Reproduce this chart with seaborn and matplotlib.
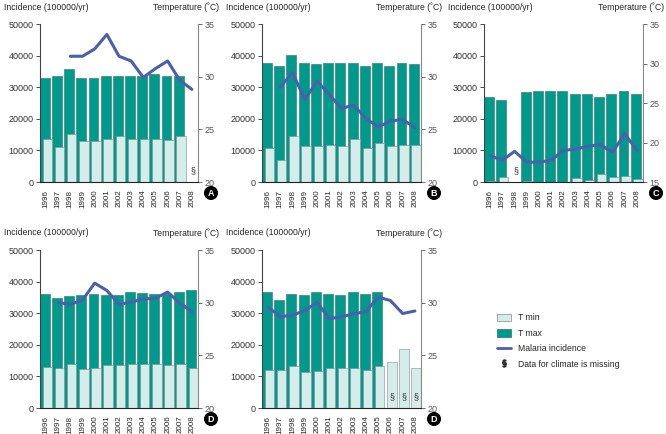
import numpy as np
import matplotlib
matplotlib.use("Agg")
import matplotlib.pyplot as plt
import matplotlib.transforms as mtransforms
from matplotlib.patches import Patch
from matplotlib.lines import Line2D
import seaborn as sns

years = [str(y) for y in range(1996, 2009)]
nan = np.nan

# panel A
a_tmax = [29.9, 30.1, 30.7, 29.9, 29.9, 30.1, 30.1, 30.1, 30.1, 30.3, 30.1, 30.1, nan]
a_tmin = [24.1, 23.3, 24.6, 23.9, 23.9, 24.1, 24.4, 24.1, 24.1, 24.1, 24.0, 24.4, nan]
a_inc = [nan, nan, 39800, 39800, 42100, 46700, 39800, 38300, 33100, 35900, 38300, 32200, 29300]

# panel B
b_tmax = [31.3, 31.0, 32.1, 31.3, 31.2, 31.3, 31.3, 31.3, 31.0, 31.3, 31.0, 31.3, 31.2]
b_tmin = [23.2, 22.1, 24.4, 23.4, 23.4, 23.5, 23.4, 24.1, 23.2, 23.7, 23.4, 23.5, 23.5]
b_inc = [nan, 30100, 34600, 26100, 31900, 27700, 23300, 24300, 20100, 17400, 19300, 19800, 17200]

# panel C
c_tmax = [25.7, 25.4, nan, 26.4, 26.5, 26.5, 26.5, 26.2, 26.2, 25.7, 26.2, 26.5, 26.2]
c_tmin = [15.1, 15.6, nan, 15.1, 14.5, 15.05, 15.0, 15.5, 15.2, 16.0, 15.6, 15.7, 15.4]
c_inc = [8250, 6900, 9700, 6300, 6300, 6900, 10000, 10400, 11300, 11900, 9300, 15300, 10000]

# panel D (first)
d_tmax = [30.8, 30.4, 30.6, 30.7, 30.8, 30.7, 30.7, 31.0, 30.9, 30.8, 30.8, 31.0, 31.2]
d_tmin = [23.9, 23.8, 24.2, 23.7, 23.8, 24.1, 24.1, 24.2, 24.2, 24.2, 24.1, 24.2, 23.8]
d_inc = [nan, 33400, 32800, 34200, 39500, 37200, 32800, 33500, 34500, 34700, 36700, 33200, 30500]

# panel D (second)
e_tmax = [31.0, 30.3, 30.8, 30.7, 31.0, 30.8, 30.7, 31.0, 30.8, 31.0, nan, nan, nan]
e_tmin = [23.6, 23.6, 24.0, 23.4, 23.5, 23.8, 23.8, 23.8, 23.6, 24.0, 24.4, 25.6, 23.8]
e_inc = [31900, 28900, 29400, 30800, 33500, 28200, 28900, 29800, 30500, 35100, 34000, 29900, 30700]

TEAL = "#009a8c"
LIGHT = "#d4ecea"
LINE = "#4a5fae"
W, H = 666, 434

sns.set_style("white")
plt.rcParams["font.family"] = ["Liberation Sans", "DejaVu Sans"]
plt.rcParams["font.size"] = 6


def draw_panel(fig, px, tmax, tmin, inc, tlim, letter, missing):
    left, top, right, bottom = px
    ax = fig.add_axes([left / W, 1 - bottom / H, (right - left) / W, (bottom - top) / H])
    ax2 = ax.twinx()
    x = list(range(len(years)))

    # temperature bars on the right axis, clipped at the bottom of the range
    n0 = len(ax2.patches)
    sns.barplot(x=x, y=tmax, order=x, color=TEAL, saturation=1, errorbar=None,
                width=0.81, edgecolor="#2f6f68", linewidth=0.4, ax=ax2)
    for p in ax2.patches[n0:]:
        p.set_x(p.get_x() - 0.095)
    n1 = len(ax2.patches)
    sns.barplot(x=x, y=tmin, order=x, color=LIGHT, saturation=1, errorbar=None,
                width=0.78, edgecolor="#7d8f8e", linewidth=0.4, ax=ax2)
    for p in ax2.patches[n1:]:
        p.set_x(p.get_x() + 0.11)

    # malaria incidence on the left axis
    sns.lineplot(x=x, y=inc, color=LINE, linewidth=2.2, ax=ax)

    ax.set_zorder(ax2.get_zorder() + 1)
    ax.patch.set_visible(False)

    ax.set_xlim(-0.5, len(years) - 0.5)
    ax.set_ylim(0, 50000)
    ax.set_yticks(range(0, 50001, 10000))
    ax2.set_ylim(*tlim)
    ax2.set_yticks(range(tlim[0], tlim[1] + 1, 5))
    ax.set_xticks(x)
    ax.set_xticklabels(years, rotation=90, fontsize=5.8)
    ax.set_xlabel("")
    ax.set_ylabel("")
    ax2.set_ylabel("")

    ax.tick_params(axis="y", left=True, length=3, width=0.6, pad=1.5, labelsize=6.5,
                   colors="#333333")
    ax.tick_params(axis="x", bottom=False, pad=2)
    ax2.tick_params(axis="y", right=True, length=3, width=0.6, pad=1.5, labelsize=6.5,
                    colors="#555555")
    for a in (ax, ax2):
        a.spines["top"].set_visible(False)
    ax.spines["right"].set_visible(False)
    ax2.spines["left"].set_visible(False)
    ax2.spines["bottom"].set_visible(False)
    ax.spines["left"].set_color("#444444")
    ax.spines["left"].set_linewidth(0.8)
    ax.spines["bottom"].set_color("#222222")
    ax.spines["bottom"].set_linewidth(0.8)
    ax2.spines["right"].set_color("#888888")
    ax2.spines["right"].set_linewidth(0.8)

    trans = mtransforms.blended_transform_factory(ax.transData, ax.transAxes)
    for i in missing:
        ax.text(i + 0.1, 0.04, "§", ha="center", va="bottom",
                fontsize=6.5, color="#333333", transform=trans)

    fig.text((left - 36) / W, 1 - (top - 17) / H, "Incidence (100000/yr)",
             ha="left", va="center", fontsize=6.2)
    fig.text((right + 21) / W, 1 - (top - 17) / H, "Temperature (˚C)",
             ha="right", va="center", fontsize=6.2)
    fig.text((right + 13) / W, 1 - (bottom + 11) / H, letter, ha="center", va="center",
             color="white", fontsize=6.5, weight="bold",
             bbox=dict(boxstyle="circle,pad=0.2", fc="black", ec="black"))
    return ax


fig = plt.figure(figsize=(W / 100, H / 100), dpi=100)

draw_panel(fig, (40, 24, 198, 182), a_tmax, a_tmin, a_inc, (20, 35), "A", [12])
draw_panel(fig, (262, 24, 421, 182), b_tmax, b_tmin, b_inc, (20, 35), "B", [])
draw_panel(fig, (484, 24, 643, 182), c_tmax, c_tmin, c_inc, (15, 35), "C", [2])
draw_panel(fig, (40, 250, 198, 408), d_tmax, d_tmin, d_inc, (20, 35), "D", [])
draw_panel(fig, (262, 250, 421, 408), e_tmax, e_tmin, e_inc, (20, 35), "D", [10, 11, 12])

handles = [
    Patch(facecolor=LIGHT, edgecolor="#7d8f8e", linewidth=0.5),
    Patch(facecolor=TEAL, edgecolor="#2f6f68", linewidth=0.5),
    Line2D([], [], color=LINE, linewidth=2),
    Line2D([], [], color="#333333", marker="$§$", linestyle="none", markersize=5),
]
labels = ["T min", "T max", "Malaria incidence", "Data for climate is missing"]
fig.legend(handles, labels, loc="upper left", bbox_to_anchor=(494 / W, 1 - 310 / H),
           frameon=False, fontsize=6.2, handlelength=1.6, handleheight=1.0,
           labelspacing=0.75, handletextpad=0.8, borderaxespad=0)

fig.savefig("out.png", dpi=100)
